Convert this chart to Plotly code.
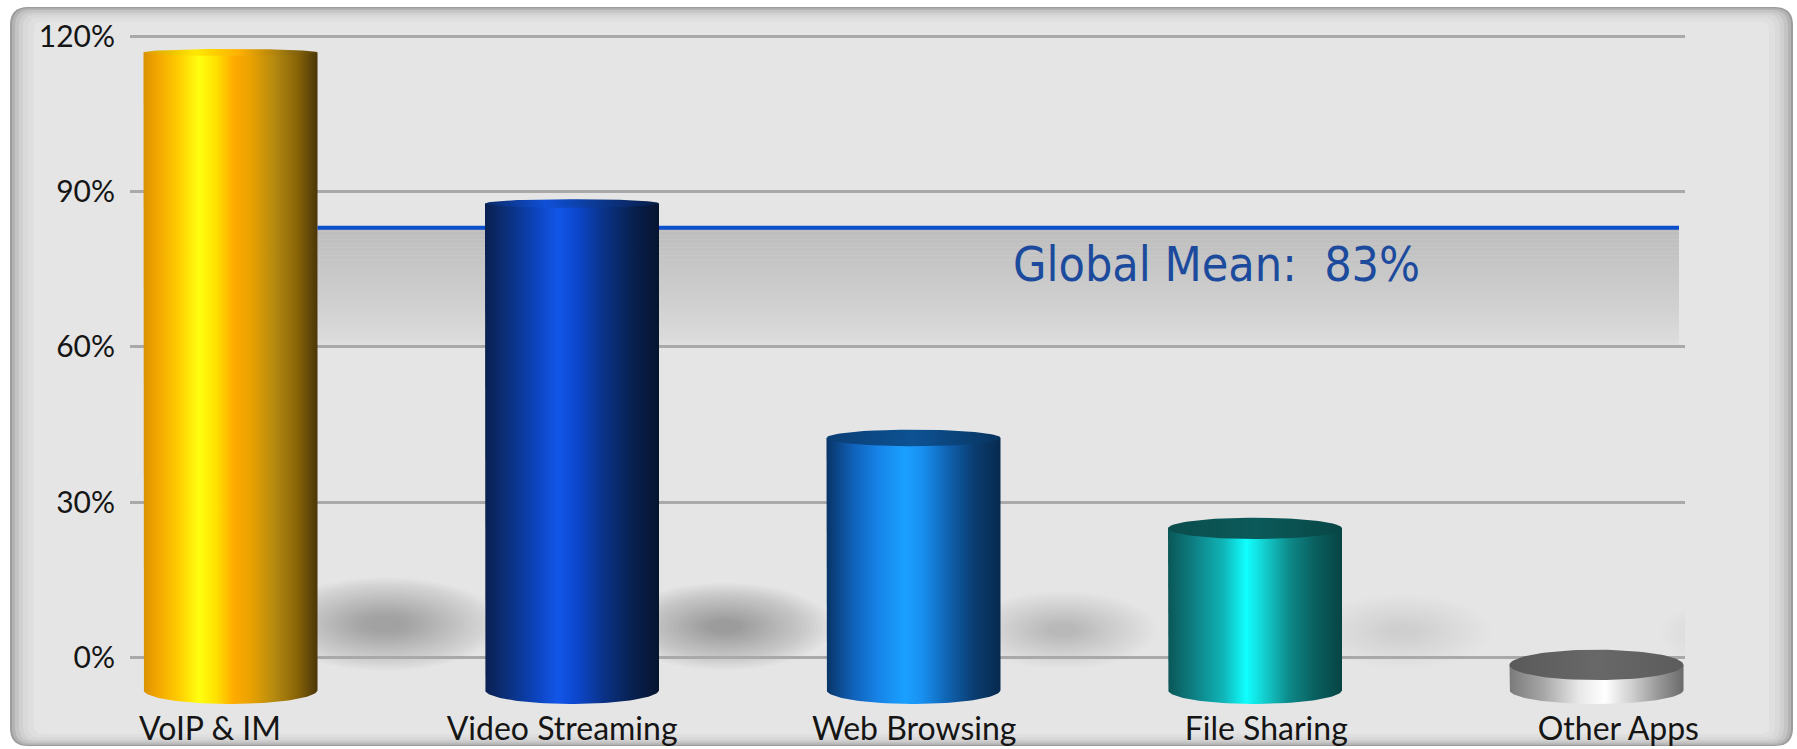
import numpy as np
import plotly.graph_objects as go

# ---- data ---------------------------------------------------------------
categories = ["VoIP & IM", "Video Streaming", "Web Browsing", "File Sharing", "Other Apps"]
shares = [117.5, 88.5, 44.0, 27.0, 1.5]          # % (top of each cylinder)
global_mean = 83                                  # %
y_tick_values = [0, 30, 60, 90, 120]
y_tick_labels = ["0%", "30%", "60%", "90%", "120%"]

# ---- colour ramps (left -> right across each cylinder) ------------------
body_ramps = [
    [[0, "#d99200"], [0.08, "#f2a600"], [0.2, "#ffcc00"], [0.32, "#ffff10"], [0.42, "#ffe000"],
     [0.52, "#ffaa00"], [0.62, "#e8a200"], [0.75, "#b58a10"], [0.88, "#8a6508"], [1, "#4a3608"]],
    [[0, "#0a2050"], [0.12, "#0b2f78"], [0.3, "#0c45c0"], [0.42, "#1256e8"], [0.52, "#0c48d0"],
     [0.68, "#0a3288"], [0.85, "#08204e"], [1, "#061430"]],
    [[0, "#083466"], [0.15, "#1060b8"], [0.3, "#1684e8"], [0.45, "#1aa0ff"], [0.55, "#1890f0"],
     [0.7, "#0f62b0"], [0.85, "#0a3c70"], [1, "#072a4e"]],
    [[0, "#0a5656"], [0.15, "#0e8084"], [0.32, "#10b5b8"], [0.45, "#10ffff"], [0.55, "#14d0d0"],
     [0.7, "#0d8888"], [0.85, "#0a5e5e"], [1, "#064444"]],
    [[0, "#7a7a7a"], [0.2, "#a8a8a8"], [0.4, "#e8e8e8"], [0.55, "#ffffff"], [0.7, "#d0d0d0"],
     [0.85, "#9a9a9a"], [1, "#6a6a6a"]],
]
cap_ramps = [
    [[0, "#d99a00"], [0.3, "#ffe800"], [0.55, "#ffb000"], [0.8, "#a07a10"], [1, "#5a4208"]],
    [[0, "#0a2a66"], [0.35, "#1050d8"], [0.6, "#0c3c9c"], [1, "#081c44"]],
    [[0, "#0a3e74"], [0.5, "#0d5294"], [1, "#08345f"]],
    [[0, "#0a4c4c"], [0.5, "#0c5a5a"], [1, "#084646"]],
    [[0, "#5a5a5a"], [0.5, "#686868"], [1, "#5c5c5c"]],
]

# ---- page / axes geometry ------------------------------------------------
W, H = 1797, 749
PL, PR, PT, PB = 130, 1685, 20, 707               # plot area in pixels
Y0_PX, Y120_PX = 657.5, 36.0                      # where 0% and 120% sit
K = (Y0_PX - Y120_PX) / 120.0                     # pixels per percent
SLOT = 341.5                                      # pixels between categories
X0_CENTER = 230.5                                 # pixel centre of first category

y_range = [-(PB - Y0_PX) / K, 120 + (Y120_PX - PT) / K]
x_range = [(PL - X0_CENTER) / SLOT, (PR - X0_CENTER) / SLOT]

positions = np.arange(len(categories), dtype=float)
half_w = 87.0 / SLOT                              # cylinder half width (x units)
floor_y = -(690 - Y0_PX) / K                      # centre of base ellipse
base_ry = 14.0 / K


def cap_ry(v):
    t = np.clip((120 - v) / 120.0, 0, 1)
    return (3.5 + 12.0 * t ** 2) / K


def fx(X):
    return (X - PL) / (PR - PL)


def fy(Y):
    return (PB - Y) / (PB - PT)


def rounded_rect(x0, y0, x1, y1, r):
    return (f"M{fx(x0 + r)},{fy(y0)} L{fx(x1 - r)},{fy(y0)} Q{fx(x1)},{fy(y0)} {fx(x1)},{fy(y0 + r)} "
            f"L{fx(x1)},{fy(y1 - r)} Q{fx(x1)},{fy(y1)} {fx(x1 - r)},{fy(y1)} "
            f"L{fx(x0 + r)},{fy(y1)} Q{fx(x0)},{fy(y1)} {fx(x0)},{fy(y1 - r)} "
            f"L{fx(x0)},{fy(y0 + r)} Q{fx(x0)},{fy(y0)} {fx(x0 + r)},{fy(y0)} Z")


shapes = []

# framed panel with soft bevelled edge
for inset, col in [(0, "#9c9c9c"), (2, "#b3b3b3"), (5, "#c4c4c4"), (9, "#d0d0d0"),
                   (13, "#d9d9d9"), (18, "#dfdfdf"), (24, "#e5e5e5")]:
    shapes.append(dict(type="path", xref="paper", yref="paper", layer="below",
                       path=rounded_rect(10 + inset, 7 + inset * 0.6, 1793 - inset, 746 - inset * 0.5,
                                         max(18 - inset * 0.4, 6)),
                       fillcolor=col, line=dict(width=0)))
# slightly lighter floor below the zero line, fading in
for j in range(8):
    shapes.append(dict(type="rect", xref="paper", yref="paper", layer="below",
                       x0=fx(36), x1=fx(1769), y0=fy(732), y1=fy(Y0_PX + 2 + j * 5),
                       fillcolor="rgba(255,255,255,0.035)", line=dict(width=0)))

# band under the mean line (vertical fade), from 60% up to the mean
band_x0 = positions[0] + half_w
band_x1 = (1679 - X0_CENTER) / SLOT
n_strips = 30
edges = np.linspace(60, global_mean, n_strips + 1)
for j in range(n_strips):
    t = (j + 0.5) / n_strips                        # 0 bottom -> 1 top
    g = int(round(223 - 34 * t ** 0.8))
    shapes.append(dict(type="rect", xref="x", yref="y", layer="below",
                       x0=band_x0, x1=band_x1, y0=edges[j], y1=edges[j + 1] + 0.05,
                       fillcolor=f"rgb({g},{g},{g})", line=dict(width=0)))

# soft cast shadows to the right of every cylinder
for xc, v in zip(positions, shares):
    s = 0.25 + 0.75 * v / 120.0
    n_layers = 22
    for k in range(n_layers):
        sc = 1 - k * 0.04
        cx = xc + half_w + 0.16 + 0.04 * s
        cy = 6.5 - 2.5 * (1 - s)
        rx = 0.34 * sc * (0.6 + 0.4 * s)
        ry = 9.0 * sc * (0.65 + 0.35 * s)
        shapes.append(dict(type="circle", xref="x", yref="y", layer="below",
                           x0=cx - rx, x1=cx + rx, y0=cy - ry, y1=cy + ry,
                           fillcolor=f"rgba(70,70,70,{0.022 * s:.4f})", line=dict(width=0)))

fig = go.Figure()

# mean line (behind the cylinders)
fig.add_trace(go.Scatter(x=[band_x0, band_x1], y=[global_mean, global_mean], mode="lines",
                         line=dict(color="#0b4fcc", width=4), hoverinfo="skip"))

# cylinders: body with a lower elliptical rim, then the top cap
theta = np.linspace(0, np.pi, 64)
phi = np.linspace(0, 2 * np.pi, 96)
for xc, v, body, cap in zip(positions, shares, body_ramps, cap_ramps):
    ry_t = cap_ry(v)
    top_c = v - ry_t
    bx = xc - half_w * np.cos(theta)
    by = floor_y - base_ry * np.sin(theta)
    xs = np.concatenate([[xc - half_w], bx, [xc + half_w, xc - half_w]])
    ys = np.concatenate([[top_c], by, [top_c, top_c]])
    fig.add_trace(go.Scatter(x=xs, y=ys, mode="lines", fill="toself", line=dict(width=0),
                             fillgradient=dict(type="horizontal", colorscale=body,
                                               start=xc - half_w, stop=xc + half_w),
                             hoverinfo="skip"))
    ex = xc + half_w * np.cos(phi)
    ey = top_c + ry_t * np.sin(phi)
    fig.add_trace(go.Scatter(x=ex, y=ey, mode="lines", fill="toself", line=dict(width=0),
                             fillgradient=dict(type="horizontal", colorscale=cap,
                                               start=xc - half_w, stop=xc + half_w),
                             hoverinfo="skip"))

label_pos = [-0.06 + 1.031 * i for i in range(len(categories))]

fig.update_layout(
    width=W, height=H, autosize=False,
    margin=dict(l=PL, r=W - PR, t=PT, b=H - PB, autoexpand=False),
    paper_bgcolor="white", plot_bgcolor="rgba(0,0,0,0)",
    showlegend=False, hovermode=False,
    shapes=shapes,
    xaxis=dict(range=x_range, tickvals=label_pos, ticktext=categories, showgrid=False,
               zeroline=False, showline=False, ticks="", ticklabelstandoff=0, automargin=False,
               tickfont=dict(family="Lato, Open Sans, sans-serif", size=32, color="#151515")),
    yaxis=dict(range=y_range, tickvals=y_tick_values, ticktext=y_tick_labels, showgrid=True,
               gridcolor="#a9a9a9", gridwidth=3, zeroline=False, showline=False, ticks="",
               ticklabelstandoff=14, automargin=False,
               tickfont=dict(family="Lato, Open Sans, sans-serif", size=30, color="#151515")),
    annotations=[dict(x=(1216 - X0_CENTER) / SLOT, y=global_mean - 36 / K, xref="x", yref="y",
                      text=f"Global Mean:\u00a0 {global_mean}%", showarrow=False,
                      xanchor="center", yanchor="middle",
                      font=dict(family="Liberation Sans Narrow, DejaVu Sans Condensed, Arial Narrow, sans-serif",
                                size=48, color="#1c4b9e"))],
)

fig.write_html("out.html")
